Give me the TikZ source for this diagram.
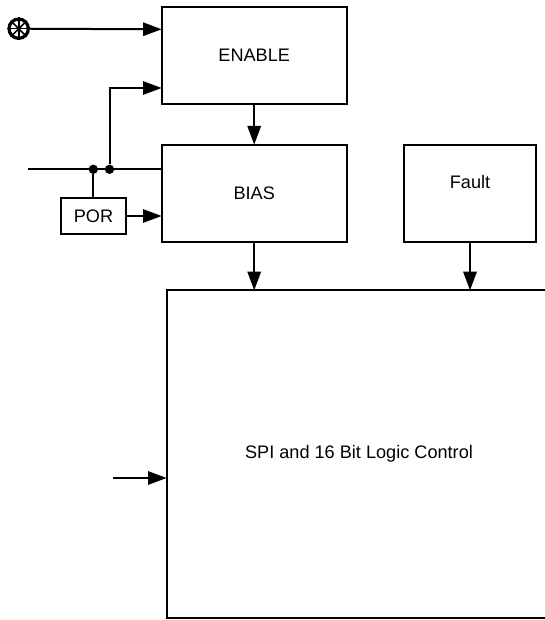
\documentclass[tikz,border=0pt]{standalone}
\usepackage{fontspec}
\setmainfont{Liberation Sans}
\usetikzlibrary{positioning, arrows.meta}

\begin{document}
\begin{tikzpicture}[
    x=0.75pt, y=-0.75pt,
    box/.style={draw, rectangle, line width=1.5pt, outer sep=0pt, minimum width=138.75pt, minimum height=72.75pt, align=center, font=\fontsize{13.6}{16}\selectfont, inner sep=0pt},
    arr/.style={line width=1.5pt, -{Triangle[length=14pt, width=10pt]}},
    wire/.style={line width=1.5pt},
    dot/.style={circle, fill=black, inner sep=0pt, minimum size=7pt}
]
    \useasboundingbox (0,0) rectangle (544,620);

    \node[box] (enable) at (254.2,55.5) {ENABLE};
    \node[box] (bias) [below=30.5pt of enable] {BIAS};
    \node[box, minimum width=98.6pt, text depth=17pt] (fault) at (470,193.5) {Fault};
    \node[box, minimum width=288.5pt, minimum height=245.5pt] (logic) at (359,454) {SPI and 16 Bit Logic Control};
    \node[box, minimum width=48.75pt, minimum height=27pt] (por) at (93.5,216) {POR};

    \node[circle, draw, line width=2.4pt, minimum size=14.5pt, inner sep=0pt] (pin) at (18.7,28.7) {};
    \foreach \ang in {0,45,...,135}
        \draw[line width=1.2pt] (pin.\ang) -- (pin.\ang+180);

    \coordinate (start) at (28.3,169.3);
    \node[dot] (porjoin) at (93.3,169.3) {};
    \node[dot] (enjoin) at (109.5,169.3) {};
    \coordinate (inlogic) at (112.7,478);

    \draw[arr] (pin) -- (enable.west |- 0,29.3);
    \draw[arr] (enjoin) |- (enable.west |- 0,88);
    \draw[wire] (start) -- (bias.west |- start);
    \draw[wire] (porjoin) -- (por.north -| porjoin);
    \draw[arr] (por) -- (bias.west |- por);
    \draw[arr] (enable) -- (bias);
    \draw[arr] (bias) -- (logic.north -| bias);
    \draw[arr] (fault) -- (logic.north -| fault);
    \draw[arr] (inlogic) -- (logic.west |- inlogic);
\end{tikzpicture}
\end{document}
